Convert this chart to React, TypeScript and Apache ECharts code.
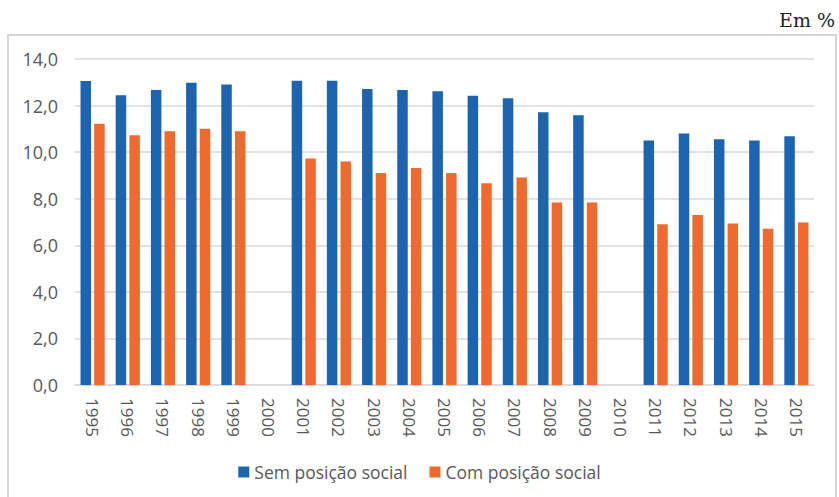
import React, { useEffect, useRef } from "react";
import * as echarts from "echarts";

const years = ["1995","1996","1997","1998","1999","2000","2001","2002","2003","2004","2005","2006","2007","2008","2009","2010","2011","2012","2013","2014","2015"];
const semPosicao = [13.05,12.44,12.67,12.98,12.9,null,13.07,13.07,12.71,12.67,12.62,12.42,12.31,11.71,11.58,null,10.5,10.8,10.55,10.5,10.68];
const comPosicao = [11.22,10.73,10.9,11.0,10.9,null,9.73,9.6,9.1,9.32,9.1,8.66,8.91,7.84,7.84,null,6.9,7.3,6.94,6.71,6.98];
const seriesNames = ["Sem posição social", "Com posição social"];
const unitLabel = "Em %";

export default function App() {
  const ref = useRef<HTMLDivElement>(null);
  useEffect(() => {
    const chart = echarts.init(ref.current!, null, { renderer: "svg" });
    const font = "'Open Sans', 'Noto Sans', sans-serif";
    chart.setOption({
      animation: false,
      backgroundColor: "#ffffff",
      graphic: [
        { type: "rect", shape: { x: 8, y: 35, width: 828, height: 480 }, style: { fill: "none", stroke: "#d6d6d6", lineWidth: 2 }, z: 0 },
        { type: "text", right: 4, top: 10, style: { text: unitLabel, font: "19px 'DejaVu Serif', serif", fill: "#222" } },
      ],
      grid: { left: 75, right: 25, top: 59, bottom: 112 },
      legend: {
        top: 458,
        left: "center",
        itemWidth: 11,
        itemHeight: 11,
        itemGap: 22,
        icon: "rect",
        textStyle: { fontFamily: font, fontSize: 17.5, color: "#595959" },
        data: seriesNames,
      },
      xAxis: {
        type: "category",
        data: years,
        axisTick: { show: false },
        axisLine: { lineStyle: { color: "#d9d9d9", width: 1.5 } },
        axisLabel: { rotate: -90, margin: 13, fontFamily: font, fontSize: 17, color: "#595959", interval: 0 },
      },
      yAxis: {
        type: "value",
        min: 0,
        max: 14,
        interval: 2,
        axisLabel: {
          margin: 17,
          fontFamily: font,
          fontSize: 18,
          color: "#595959",
          formatter: (v: number) => v.toFixed(1).replace(".", ","),
        },
        splitLine: { lineStyle: { color: "#d9d9d9", width: 1.5 } },
      },
      series: [
        { name: seriesNames[0], type: "bar", data: semPosicao, barWidth: 10.5, barGap: "30%", itemStyle: { color: "#1C64B0" } },
        { name: seriesNames[1], type: "bar", data: comPosicao, barWidth: 10.5, barGap: "30%", itemStyle: { color: "#EE6A2E" } },
      ],
    });
    return () => chart.dispose();
  }, []);
  return <div ref={ref} style={{ position: "fixed", left: 0, top: 0, width: 839, height: 497 }} />;
}
